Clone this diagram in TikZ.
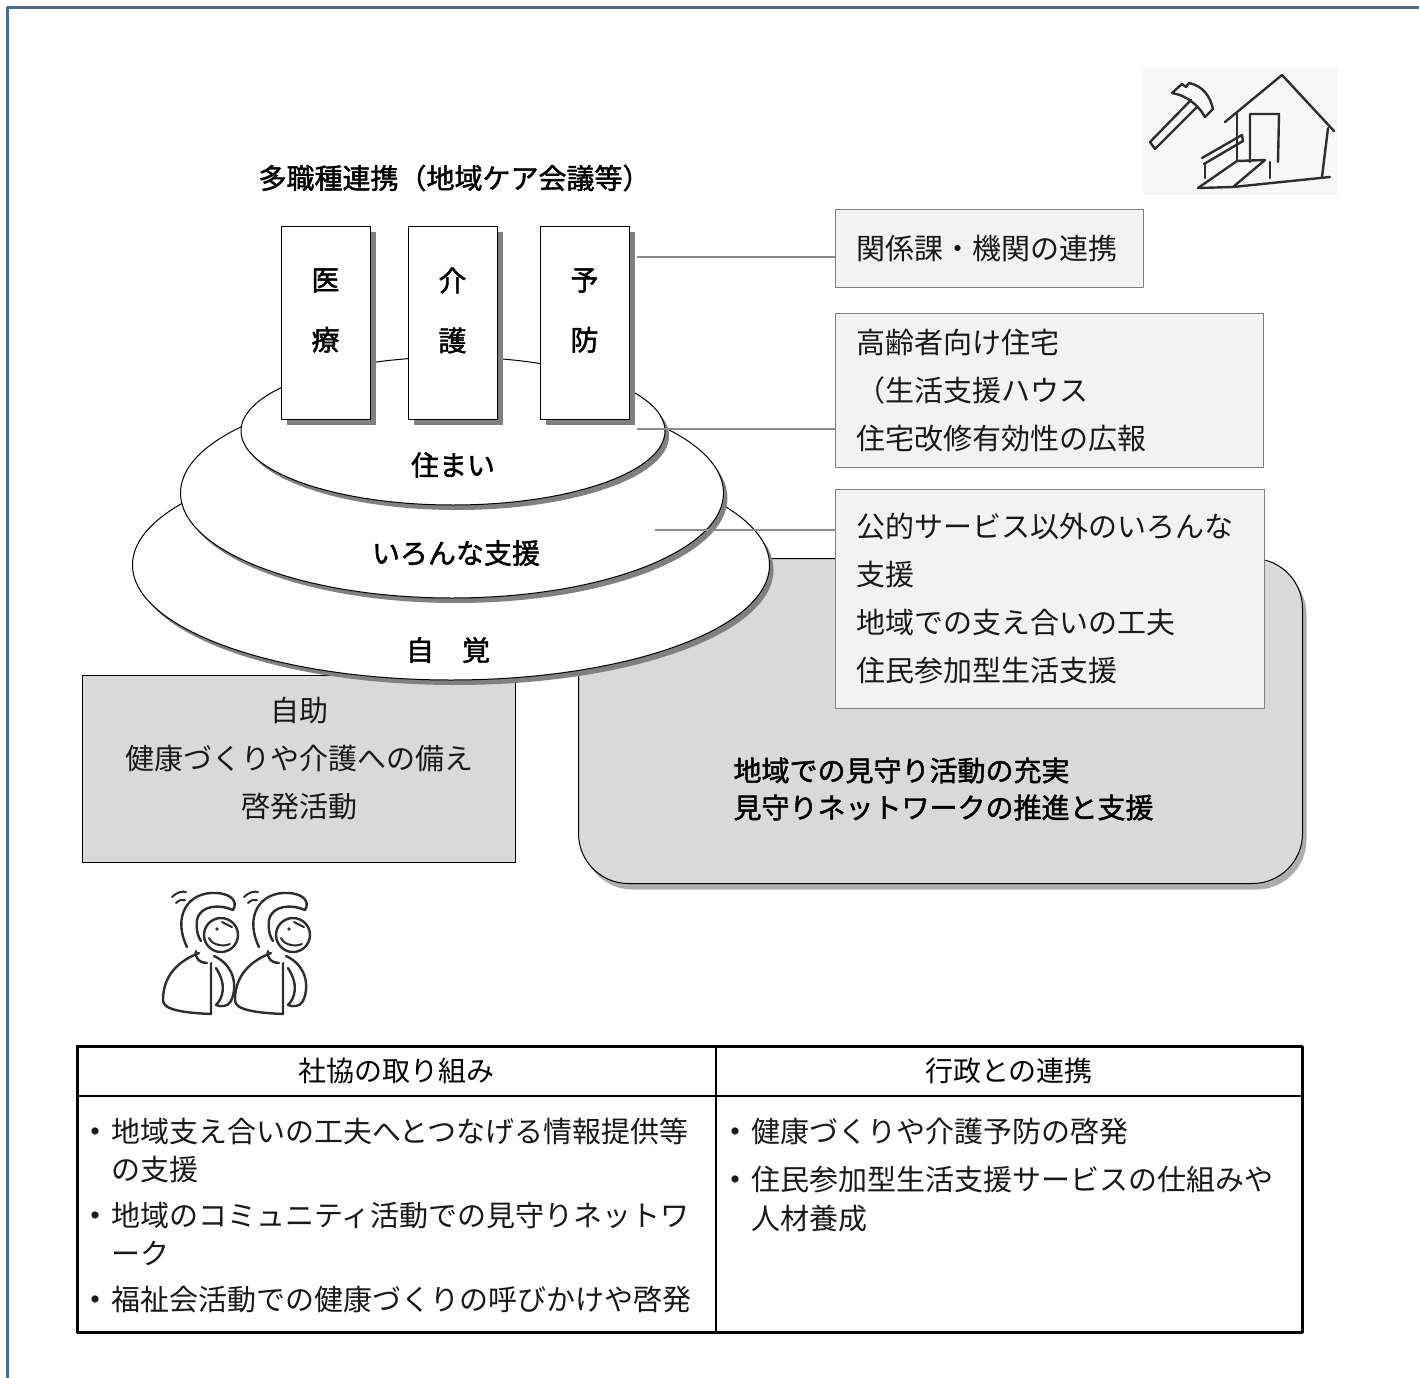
\documentclass[tikz,border=0pt]{standalone}
\usepackage{fontspec}
\setmainfont{Noto Sans CJK JP}
\newfontfamily\midfont{Noto Sans CJK JP}[FakeBold=1.6]
\usetikzlibrary{positioning,shapes.geometric,shadows}

\definecolor{frameblue}{HTML}{4A6A97}
\definecolor{notefill}{HTML}{F2F2F2}
\definecolor{panelfill}{HTML}{D9D9D9}
\definecolor{inkgray}{HTML}{2E2E2E}

% bullet and hanging indent for the table lists
\newcommand\itm{\makebox[24pt][l]{\hspace*{4pt}\raisebox{8pt}{\fontsize{8}{8}\selectfont ●}}}
\newcommand\cont{\hspace*{24pt}}

\begin{document}
\begin{tikzpicture}[x=1pt,y=-1pt,line join=round,
  txt/.style={font=\fontsize{29}{48}\selectfont,text=black!90},
  bold/.style={font=\midfont\fontsize{28}{37}\selectfont},
  pillar/.style={draw,fill=white,anchor=north west,inner sep=0pt,outer sep=0pt,
    minimum width=89pt,minimum height=193pt,line width=1pt,
    drop shadow={shadow xshift=6pt,shadow yshift=-6pt,fill=black!50,opacity=1}},
  disc/.style={ellipse,draw,fill=white,inner sep=0pt,outer sep=0pt,line width=1pt,
    drop shadow={shadow xshift=4pt,shadow yshift=-5pt,fill=black!50,opacity=1}},
  note/.style={draw=black!50,fill=notefill,anchor=north west,align=left,line width=1pt,
    inner xsep=21pt,txt},
  panel/.style={draw,fill=panelfill,anchor=north west,inner sep=0pt,line width=1pt},
  link/.style={draw=black!45,line width=1.8pt},
  cell/.style={draw,anchor=north west,inner sep=0pt,outer sep=0pt,line width=1.6pt,
    font=\fontsize{28}{40}\selectfont},
  sketch/.style={draw=inkgray,line width=2.4pt,line cap=round}]
\useasboundingbox (0,0) rectangle (1419,1378);

% page frame
\draw[frameblue,line width=3pt] (7,1378) -- (7,8) -- (1419,8);

% house and hammer
\fill[black!3] (1143,67) rectangle (1338,195);
\draw[sketch] (1172,93) -- (1182,84) -- (1186,87) -- (1189,83) .. controls (1203,86) and (1210,96) .. (1213,109)
  -- (1205,117) .. controls (1200,108) and (1192,100) .. (1180,95) -- cycle;
\draw[sketch] (1191,100) -- (1150,142) -- (1155,149) -- (1197,107);
\draw[sketch] (1225,122) -- (1282,75) -- (1334,131);
\draw[sketch] (1237,112) -- (1237,161);
\draw[sketch] (1328,128) -- (1322,177);
\draw[sketch] (1250,162) -- (1250,114) -- (1279,114) -- (1278,162);
\draw[sketch] (1198,188) -- (1237,161) -- (1265,160) -- (1233,187) -- (1330,177);
\draw[sketch] (1198,188) -- (1233,187);
\draw[sketch] (1270,162) -- (1270,178);
\draw[sketch] (1202,158) -- (1242,135) -- (1243,141) -- (1204,164);
\draw[sketch] (1205,164) -- (1205,178);

% heading
\node[bold,anchor=west] (head) at (255,178) {多職種連携（地域ケア会議等）};

% grey panels under the stack
\node[panel,rounded corners=50pt,minimum width=724pt,minimum height=325pt,
  drop shadow={shadow xshift=4pt,shadow yshift=-6pt,fill=black!40,opacity=.8}] (mimamori) at (578,558) {};
\node[panel,minimum width=433pt,minimum height=187pt] (jijo) at (82,675) {};
\node[txt,align=center] at ([yshift=10pt]jijo.center) {自助\\健康づくりや介護への備え\\啓発活動};

% stacked discs
\node[disc,minimum width=637pt,minimum height=230pt] (jikaku) at (451,565) {};
\node[disc,minimum width=543pt,minimum height=210pt] (shien) at (452,493) {};
\node[disc,minimum width=424pt,minimum height=148pt] (sumai) at (453,431) {};
\node[bold] at ([yshift=-34pt]sumai.center) {住まい};
\node[bold] at ([xshift=4pt,yshift=-60pt]shien.center) {いろんな支援};
\node[bold] at ([xshift=-3pt,yshift=-85pt]jikaku.center) {自　覚};

% pillars
\foreach \n/\x/\a/\b in {iryo/281/医/療,kaigo/408/介/護,yobo/540/予/防}{
  \node[pillar] (\n) at (\x,226) {};
  \node[font=\midfont\fontsize{28}{60}\selectfont,align=center] at ([yshift=12pt]\n.center) {\a\\\b};
}

% side notes
\node[note,text width=266pt,minimum height=78pt] (kankei) at (835,209) {関係課・機関の連携};
\node[note,text width=386pt,minimum height=154pt] (jutaku) at (835,313)
  {高齢者向け住宅\\（生活支援ハウス\\住宅改修有効性の広報};
\node[note,text width=387pt,minimum height=219pt] (koteki) at (835,489)
  {公的サービス以外のいろんな\\支援\\地域での支え合いの工夫\\住民参加型生活支援};

\coordinate (l1) at (637,257);
\coordinate (l2) at (637,429);
\coordinate (l3) at (655,530);
\draw[link] (l1) -- (l1 -| kankei.west);
\draw[link] (l2) -- (l2 -| jutaku.west);
\draw[link] (l3) -- (l3 -| koteki.west);

\node[bold,align=left,anchor=west] (mimamoritxt) at (730,789)
  {地域での見守り活動の充実\\見守りネットワークの推進と支援};

% two people stretching
\foreach \dx in {0,72}{
  \begin{scope}[xshift=\dx pt]
    \draw[sketch,line width=2pt] (172,897) .. controls (177,892) and (182,891) .. (186,892);
    \draw[sketch,line width=2pt] (176,903) .. controls (179,900) and (182,899) .. (185,900);
    \draw[sketch] (187,947) .. controls (172,916) and (188,891) .. (217,893)
      .. controls (232,894) and (238,902) .. (233,910)
      .. controls (220,904) and (200,905) .. (197,920)
      .. controls (196,930) and (198,937) .. (201,941);
    \draw[sketch] (221,935) circle (17);
    \fill[inkgray] (217,929) circle (1.8);
    \draw[sketch,line width=2pt] (222,922) -- (232,927);
    \draw[sketch,line width=2pt] (209,938) .. controls (212,945) and (223,947) .. (230,944);
    \draw[sketch] (196,951) .. controls (195,959) and (200,963) .. (207,963);
    \draw[sketch] (199,953) .. controls (178,961) and (163,976) .. (163,1000)
      .. controls (162,1011) and (190,1013) .. (211,1014) -- (211,963);
    \draw[sketch] (214,956) .. controls (234,965) and (238,986) .. (231,1001)
      .. controls (228,1007) and (220,1007) .. (216,1005)
      .. controls (223,998) and (227,985) .. (216,968);
  \end{scope}
}

% table of activities
\node[cell,minimum width=639pt,minimum height=50pt] (hdrL) at (77,1046) {社協の取り組み};
\node[cell,minimum width=586pt,minimum height=50pt,right=0pt of hdrL] (hdrR) {行政との連携};
\node[cell,minimum width=639pt,minimum height=236pt,below=0pt of hdrL] (bodyL) {};
\node[cell,minimum width=586pt,minimum height=236pt,below=0pt of hdrR] (bodyR) {};
\draw[line width=3pt] (hdrL.north west) rectangle (bodyR.south east);
\node[txt,anchor=north west,align=left,inner sep=0pt,font=\fontsize{29}{38}\selectfont]
  (listL) at (87,1118)
  {\itm 地域支え合いの工夫へとつなげる情報提供等\\\cont の支援\\[8pt]
   \itm 地域のコミュニティ活動での見守りネットワ\\\cont ーク\\[8pt]
   \itm 福祉会活動での健康づくりの呼びかけや啓発};
\node[txt,anchor=north west,align=left,inner sep=0pt,font=\fontsize{29}{39}\selectfont]
  (listR) at (727,1118)
  {\itm 健康づくりや介護予防の啓発\\[9pt]
   \itm 住民参加型生活支援サービスの仕組みや\\\cont 人材養成};
\end{tikzpicture}
\end{document}
